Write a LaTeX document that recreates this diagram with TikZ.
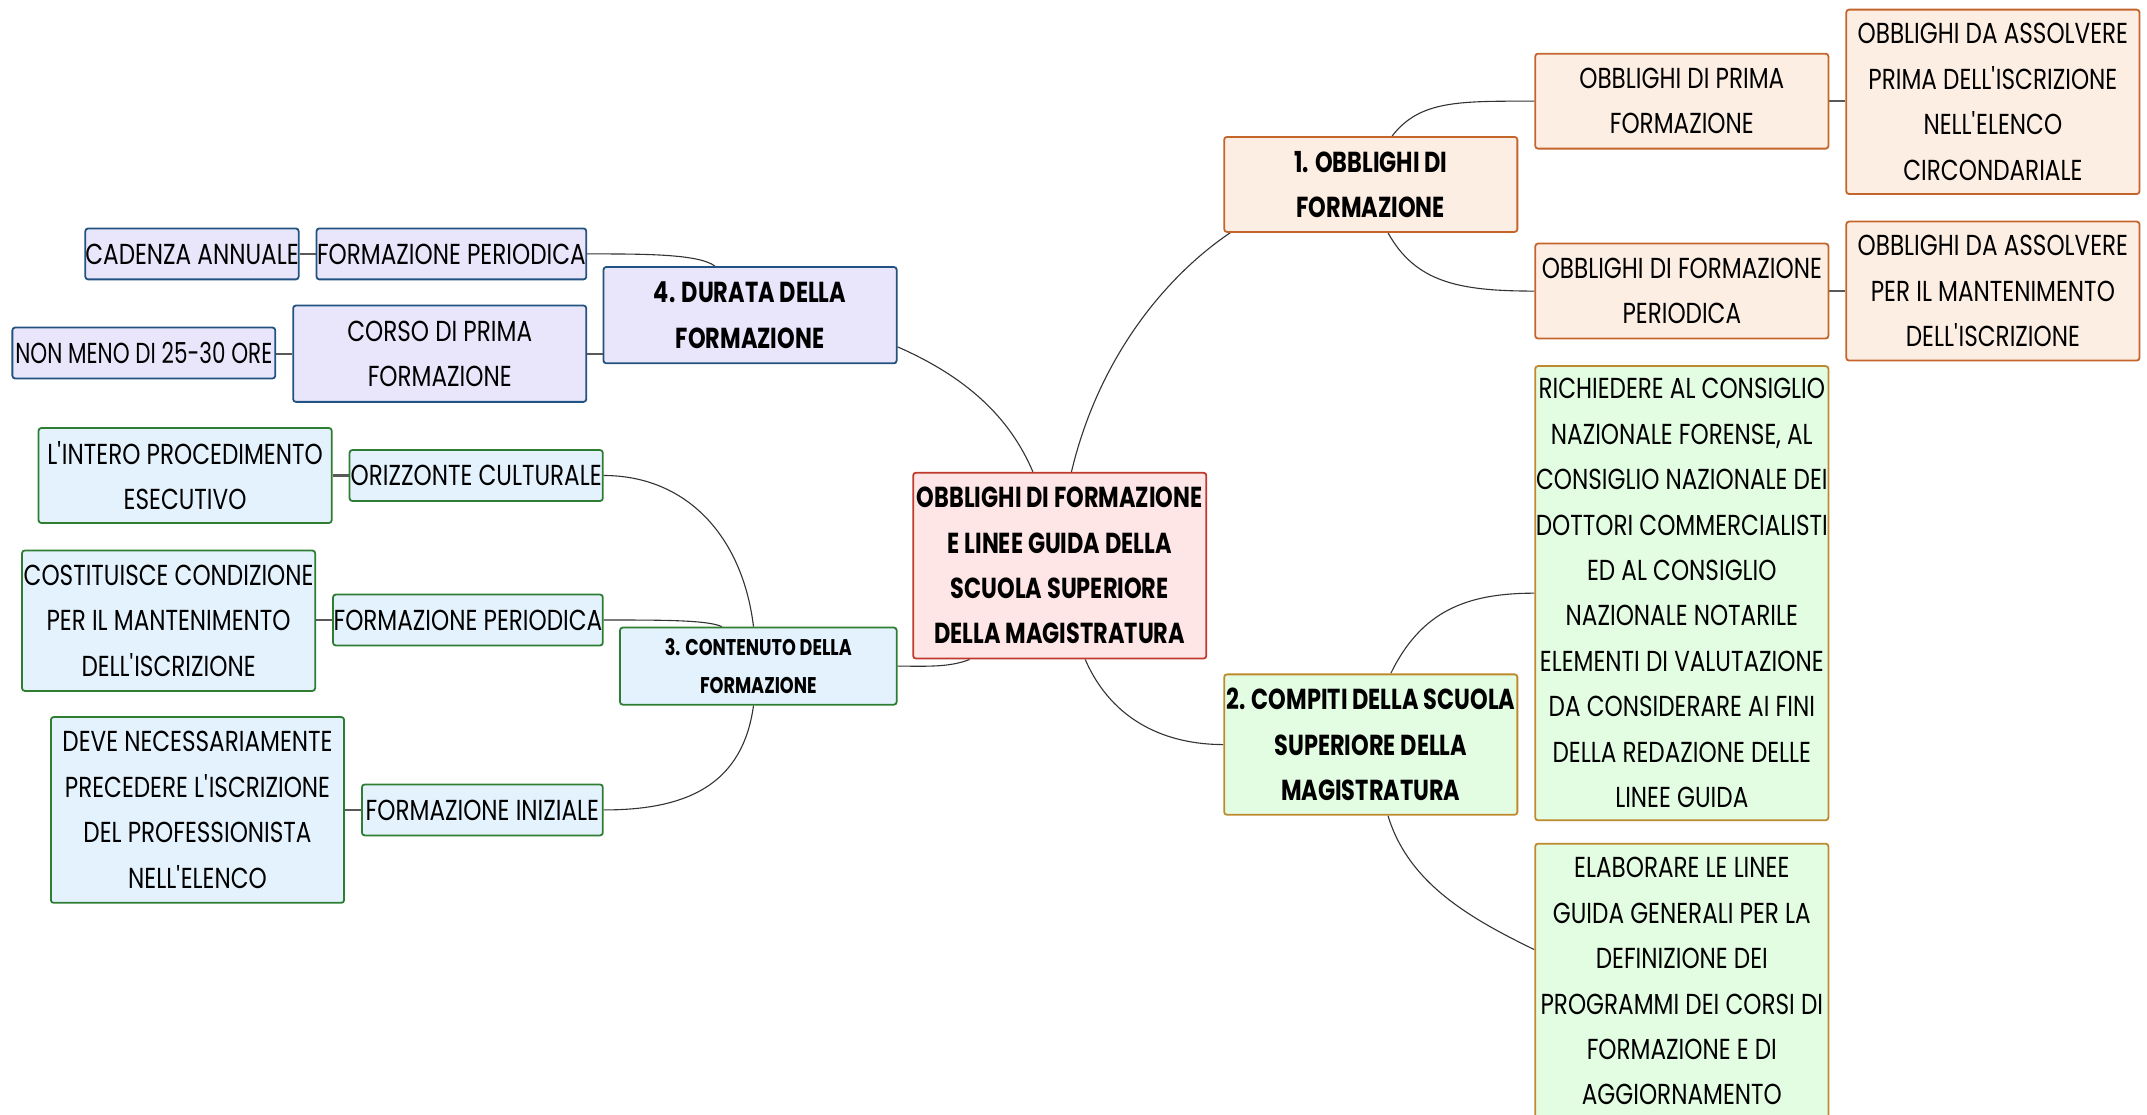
\documentclass[tikz,border=0pt]{standalone}
\usepackage{fontspec}
\setmainfont{Poppins}[FakeStretch=0.80, BoldFeatures={FakeStretch=0.777}]
\usetikzlibrary{backgrounds}
\newcommand\ap{\textquotesingle}
\definecolor{cfill}{HTML}{FFE6E6}\definecolor{cdraw}{HTML}{C0392B}
\definecolor{ofill}{HTML}{FDEEE4}\definecolor{odraw}{HTML}{C4652C}
\definecolor{gfill}{HTML}{E3FDE3}\definecolor{gdraw}{HTML}{BF8A2E}
\definecolor{pfill}{HTML}{E9E6FC}\definecolor{pdraw}{HTML}{22527F}
\definecolor{bfill}{HTML}{E3F2FD}\definecolor{bdraw}{HTML}{2E7D32}
\begin{document}
\begin{tikzpicture}[x=1pt,y=-1pt,
  box/.style={draw, rounded corners=2pt, line width=1.3pt, inner sep=0pt, align=center, text=black,
    font=\fontsize{21}{33}\selectfont},
  cbox/.style={box, fill=cfill, draw=cdraw, font=\fontsize{21}{33}\selectfont\bfseries},
  obox/.style={box, fill=ofill, draw=odraw},
  gbox/.style={box, fill=gfill, draw=gdraw},
  pbox/.style={box, fill=pfill, draw=pdraw},
  bbox/.style={box, fill=bfill, draw=bdraw},
  bold/.style={font=\fontsize{21}{33}\selectfont\bfseries},
  curve/.style={draw=black!80, line width=0.8pt},
  link/.style={draw=black!65, line width=1.6pt}]
\useasboundingbox (0,0) rectangle (1560,810);
\clip (0,0) rectangle (1560,810);
% center
\node[cbox, minimum width=213, minimum height=135] (c) at (770,411)
  {OBBLIGHI DI FORMAZIONE\\E LINEE GUIDA DELLA\\SCUOLA SUPERIORE\\DELLA MAGISTRATURA};
% branch 1
\node[obox, bold, minimum width=213, minimum height=69] (n1) at (996,134) {1. OBBLIGHI DI\\FORMAZIONE};
\node[obox, minimum width=213, minimum height=69] (n1a) at (1222,73.5) {OBBLIGHI DI PRIMA\\FORMAZIONE};
\node[obox, minimum width=213, minimum height=134] (n1aa) at (1448,74) {OBBLIGHI DA ASSOLVERE\\PRIMA DELL\ap ISCRIZIONE\\NELL\ap ELENCO\\CIRCONDARIALE};
\node[obox, minimum width=213, minimum height=69] (n1b) at (1222,211.5) {OBBLIGHI DI FORMAZIONE\\PERIODICA};
\node[obox, minimum width=213, minimum height=101] (n1bb) at (1448,211.5) {OBBLIGHI DA ASSOLVERE\\PER IL MANTENIMENTO\\DELL\ap ISCRIZIONE};
% branch 2
\node[gbox, bold, minimum width=213, minimum height=102] (n2) at (996,541) {2. COMPITI DELLA SCUOLA\\SUPERIORE DELLA\\MAGISTRATURA};
\node[gbox, minimum width=213, minimum height=330] (n2a) at (1222,431) {RICHIEDERE AL CONSIGLIO\\NAZIONALE FORENSE, AL\\CONSIGLIO NAZIONALE DEI\\DOTTORI COMMERCIALISTI\\ED AL CONSIGLIO\\NAZIONALE NOTARILE\\ELEMENTI DI VALUTAZIONE\\DA CONSIDERARE AI FINI\\DELLA REDAZIONE DELLE\\LINEE GUIDA};
\node[gbox, minimum width=213, minimum height=200] (n2b) at (1222,713) {ELABORARE LE LINEE\\GUIDA GENERALI PER LA\\DEFINIZIONE DEI\\PROGRAMMI DEI CORSI DI\\FORMAZIONE E DI\\AGGIORNAMENTO};
% branch 4
\node[pbox, bold, minimum width=213, minimum height=70] (n4) at (545,229) {4. DURATA DELLA\\FORMAZIONE};
\node[pbox, minimum width=196, minimum height=37] (n4a) at (328,184.5) {FORMAZIONE PERIODICA};
\node[pbox, minimum width=155, minimum height=37] (n4aa) at (139.5,184.5) {CADENZA ANNUALE};
\node[pbox, minimum width=213, minimum height=70] (n4b) at (319.5,257) {CORSO DI PRIMA\\FORMAZIONE};
\node[pbox, minimum width=191, minimum height=37] (n4bb) at (104.5,256.5) {\scalebox{0.93}[1]{NON MENO DI 25-30 ORE}};
% branch 3
\node[bbox, font=\fontsize{16.5}{27}\selectfont\bfseries, minimum width=201, minimum height=56] (n3) at (551,484) {3. CONTENUTO DELLA\\FORMAZIONE};
\node[bbox, minimum width=184, minimum height=37] (n3a) at (346,345.5) {ORIZZONTE CULTURALE};
\node[bbox, minimum width=213, minimum height=69] (n3aa) at (134.5,345.5) {L\ap INTERO PROCEDIMENTO\\ESECUTIVO};
\node[bbox, minimum width=196, minimum height=37] (n3b) at (340,450.5) {FORMAZIONE PERIODICA};
\node[bbox, minimum width=213, minimum height=102] (n3bb) at (122.5,451) {COSTITUISCE CONDIZIONE\\PER IL MANTENIMENTO\\DELL\ap ISCRIZIONE};
\node[bbox, minimum width=175, minimum height=37] (n3c) at (350.5,588.5) {FORMAZIONE INIZIALE};
\node[bbox, minimum width=213, minimum height=135] (n3cc) at (143.5,588.5) {DEVE NECESSARIAMENTE\\PRECEDERE L\ap ISCRIZIONE\\DEL PROFESSIONISTA\\NELL\ap ELENCO};
% connectors
\begin{scope}[on background layer]
\fill[white] (0,0) rectangle (1560,810);
\draw[curve] ([xshift=8.5pt]c.north) .. controls +(20,-84) and +(-46,31) .. ([xshift=5pt]n1.south west);
\draw[curve] ([xshift=15.5pt]n1.north) .. controls +(20,-26) and +(-55,0) .. (n1a.west);
\draw[curve] ([xshift=12.5pt]n1.south) .. controls +(20,36) and +(-55,0) .. (n1b.west);
\draw[link] (n1a.east) -- (n1a.east -| n1aa.west);
\draw[link] (n1b.east) -- (n1b.east -| n1bb.west);
\draw[curve] ([xshift=18.5pt]c.south) .. controls +(20,46) and +(-40,0) .. (n2.west);
\draw[curve] ([xshift=14.5pt]n2.north) .. controls +(22,-45) and +(-50,0) .. (n2a.west);
\draw[curve] ([xshift=12.5pt]n2.south) .. controls +(15,50) and +(-45,-22) .. ([yshift=23pt]n2b.west);
\draw[curve] ([xshift=-19.5pt]c.north) .. controls +(-17,-40) and +(50,22) .. ([yshift=-23pt]n4.east);
\draw[curve] ([xshift=-25.5pt]n4.north) .. controls +(-12,-9) and +(40,0) .. (n4a.east);
\draw[link] (n4b.east) -- (n4b.east -| n4.west);
\draw[link] (n4a.west) -- (n4aa.east);
\draw[link] (n4b.west) -- (n4b.west -| n4bb.east);
\draw[curve] ([xshift=-65.5pt]c.south) .. controls +(-15,6) and +(20,0) .. (n3.east);
\draw[curve] ([xshift=-3.5pt]n3.north) .. controls +(-8,-66) and +(60,0) .. (n3a.east);
\draw[curve] ([xshift=-26.5pt]n3.north) .. controls +(-10,-5) and +(40,0) .. (n3b.east);
\draw[curve] ([xshift=-3.5pt]n3.south) .. controls +(-8,58) and +(60,0) .. (n3c.east);
\draw[link] (n3a.west) -- (n3aa.east);
\draw[link] (n3b.west) -- (n3b.west -| n3bb.east);
\draw[link] (n3c.west) -- (n3cc.east);
\end{scope}
\end{tikzpicture}
\end{document}
